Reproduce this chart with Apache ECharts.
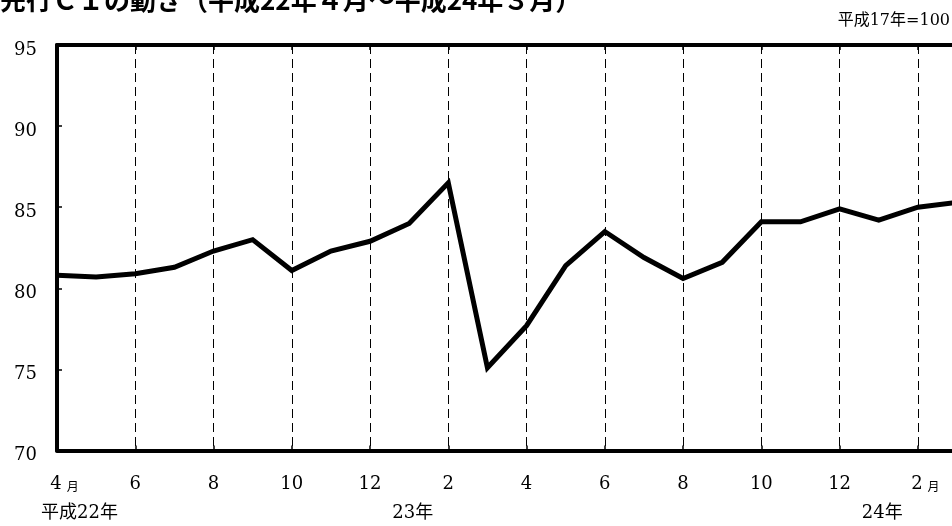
<!DOCTYPE html>
<html>
<head>
<meta charset="utf-8">
<script src="https://cdn.jsdelivr.net/npm/echarts@6/dist/echarts.min.js"></script>
<style>
  html, body { margin: 0; padding: 0; background: #fff; }
  #chart { width: 952px; height: 526px; }
</style>
</head>
<body>
<div id="chart"></div>
<script>
// Monthly index, April 2010 (平成22年4月) through March 2012 (平成24年3月)
const months = [4, 5, 6, 7, 8, 9, 10, 11, 12, 1, 2, 3, 4, 5, 6, 7, 8, 9, 10, 11, 12, 1, 2, 3];
const values = [80.8, 80.7, 80.9, 81.3, 82.3, 83.0, 81.1, 82.3, 82.9, 84.0, 86.5, 75.1,
                77.7, 81.4, 83.5, 81.9, 80.6, 81.6, 84.1, 84.1, 84.9, 84.2, 85.0, 85.3];
// Month labels that carry the 月 unit
const monthUnitIndex = [0, 22];
// Year captions under the month row
const yearLabels = ['平成22年', '23年', '24年'];
const yearLabelIndex = [0, 9, 21];
// Value axis range
const yMin = 70, yMax = 95, yStep = 5;
const titleText = '先行ＣＩの動き（平成22年４月〜平成24年３月）';
const baseNote = '平成17年=100';

const categories = months.map((m, i) => String(i));
const everyOther = (i) => i % 2 === 0;
const serif = '"DejaVu Serif", "Noto Sans CJK JP", serif';

const chart = echarts.init(document.getElementById('chart'), null, { renderer: 'canvas' });

chart.setOption({
  backgroundColor: '#fff',
  animation: false,
  title: [
    {
      text: titleText,
      left: 0,
      top: -13,
      padding: 0,
      textStyle: { fontFamily: '"Noto Sans CJK JP", sans-serif', fontWeight: 'bold', fontSize: 26, color: '#000' }
    },
    {
      text: baseNote,
      right: 2,
      top: 13,
      padding: 0,
      textStyle: { fontFamily: serif, fontWeight: 'normal', fontSize: 16, color: '#000' }
    }
  ],
  grid: { left: 57, top: 45, width: 900, height: 405.5, containLabel: false, outerBoundsMode: 'none' },
  xAxis: [
    {
      type: 'category',
      data: categories,
      boundaryGap: false,
      position: 'bottom',
      axisLine: { show: true, lineStyle: { color: '#000', width: 4 } },
      axisTick: { show: true, inside: true, length: 5, interval: (i) => everyOther(i), lineStyle: { color: '#000', width: 1.5 } },
      splitLine: {
        show: true,
        interval: (i) => everyOther(i) && i > 0,
        lineStyle: { color: '#000', width: 1, type: [9, 5] }
      },
      axisLabel: {
        interval: (i) => everyOther(i),
        margin: 24,
        fontFamily: serif,
        fontSize: 18,
        lineHeight: 20,
        color: '#000',
        formatter: (v, i) => {
          const m = months[i];
          return monthUnitIndex.includes(i) ? '{n|' + m + '}{u|月}' : String(m);
        },
        rich: {
          n: { fontFamily: serif, fontSize: 18, color: '#000', padding: [0, 5, 0, 15] },
          u: { fontFamily: '"Noto Sans CJK JP", sans-serif', fontSize: 12, color: '#000', padding: [3, 0, 0, 0] }
        }
      }
    },
    {
      type: 'category',
      data: categories,
      boundaryGap: false,
      position: 'top',
      axisLine: { show: true, lineStyle: { color: '#000', width: 4 } },
      axisTick: { show: true, inside: true, length: 5, interval: (i) => everyOther(i), lineStyle: { color: '#000', width: 1.5 } },
      axisLabel: { show: false },
      splitLine: { show: false }
    },
    {
      type: 'category',
      data: categories,
      boundaryGap: false,
      position: 'bottom',
      axisLine: { show: false },
      axisTick: { show: false },
      splitLine: { show: false },
      axisLabel: {
        interval: (i) => yearLabelIndex.includes(i),
        margin: 53,
        fontFamily: serif,
        fontSize: 18,
        lineHeight: 20,
        color: '#000',
        formatter: (v, i) => {
          const k = yearLabelIndex.indexOf(i);
          return (k === 0 ? '{f|' : '{o|') + yearLabels[k] + '}';
        },
        rich: {
          f: { fontFamily: serif, fontSize: 18, color: '#000', padding: [0, 0, 0, 45] },
          o: { fontFamily: serif, fontSize: 18, color: '#000', padding: [0, 0, 0, 7] }
        }
      }
    }
  ],
  yAxis: {
    type: 'value',
    min: yMin,
    max: yMax,
    interval: yStep,
    axisLine: { show: true, lineStyle: { color: '#000', width: 4 } },
    axisTick: { show: true, inside: true, length: 5, lineStyle: { color: '#000', width: 1.5 } },
    splitLine: { show: false },
    axisLabel: {
      margin: 20,
      fontFamily: serif,
      fontSize: 18,
      color: '#000',
      verticalAlign: 'top',
      lineHeight: 10
    }
  },
  series: [
    {
      type: 'line',
      xAxisIndex: 0,
      data: values,
      symbol: 'none',
      clip: true,
      lineStyle: { color: '#000', width: 5, join: 'miter' },
      z: 5
    }
  ]
});
</script>
</body>
</html>
